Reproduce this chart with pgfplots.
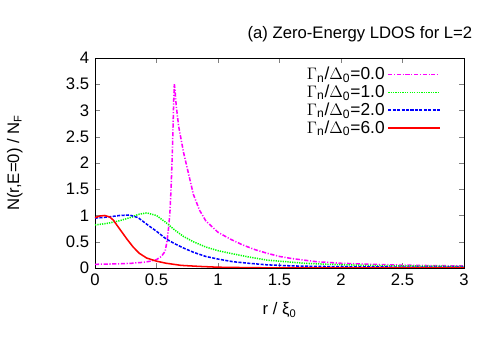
\documentclass[border=0pt]{standalone}
\usepackage{pgfplots}
\pgfplotsset{compat=1.18}
\usepackage{fontspec}
\setmainfont{Liberation Sans}
\definecolor{gpmag}{RGB}{255,0,255}
\definecolor{gpgreen}{RGB}{0,255,0}
\definecolor{gpblue}{RGB}{0,0,255}
\definecolor{gpred}{RGB}{255,0,0}

\begin{document}
\fontsize{12}{14}\selectfont
\begin{tikzpicture}
\useasboundingbox (-68.4pt,-59.04pt) rectangle (291.6pt,192.96pt);
\begin{axis}[
  at={(0,0)}, anchor=south west,
  scale only axis, width=265.7pt, height=151.2pt,
  xmin=0, xmax=3, ymin=0, ymax=4,
  xtick={0,0.5,...,3}, ytick={0,0.5,...,4},
  tick align=inside, major tick length=3.6pt,
  xtick pos=both, ytick pos=both,
  /pgf/number format/assume math mode=true,
  ticklabel style={font=\fontsize{12}{14}\selectfont},
  label style={font=\fontsize{12}{14}\selectfont},
  title={(a) Zero-Energy LDOS for L=2},
  title style={font=\fontsize{12}{14}\selectfont, at={(axis description cs:0.718,1.075)}, anchor=center},
  xlabel={r / ξ\textsubscript{0}},
  xlabel style={at={(axis description cs:0.5,-0.2)}, anchor=center},
  ylabel={N(r,E=0) / N\textsubscript{F}},
  ylabel style={at={(axis description cs:-0.217,0.5)}, anchor=center},
  legend plot pos=right, legend cell align=right,
  legend style={draw=none, fill=none, at={(axis description cs:0.948,0.985)}, anchor=north east,
    row sep=-2pt, font=\fontsize{12.5}{14}\selectfont},
  legend image code/.code={\draw[mark repeat=2,mark phase=2,#1] plot coordinates {(0cm,0cm) (0.65cm,0cm) (1.3cm,0cm)};},
  legend image post style={line width=1.1pt},
]
\addplot[gpmag, line width=1.1pt, dash pattern=on 3pt off 1.2pt on 0.8pt off 1.2pt] coordinates {
(0,0.07) (0.1,0.075) (0.2,0.08) (0.3,0.09) (0.4,0.11) (0.45,0.13) (0.5,0.16)
(0.54,0.22) (0.57,0.32) (0.585,0.5) (0.6,0.8) (0.61,1.1) (0.62,1.6) (0.63,2.3)
(0.64,3.2) (0.645,3.5) (0.65,3.4) (0.66,3.1) (0.68,2.7) (0.7,2.45) (0.72,2.2)
(0.75,1.9) (0.8,1.4) (0.85,1.1) (0.9,0.9) (1.0,0.68) (1.1,0.55) (1.2,0.44)
(1.3,0.35) (1.4,0.28) (1.5,0.22) (1.6,0.18) (1.7,0.15) (1.8,0.12) (2.0,0.09)
(2.25,0.07) (2.5,0.055) (2.75,0.045) (3.0,0.04)};
\addlegendentry{$\Gamma$\textsubscript{n}/$\Delta$\textsubscript{0}=0.0}
\addplot[gpgreen, line width=1.1pt, dash pattern=on 0.9pt off 0.8pt] coordinates {
(0,0.82) (0.1,0.85) (0.2,0.9) (0.3,0.97) (0.35,1.02) (0.42,1.05) (0.5,1.0)
(0.58,0.86) (0.65,0.72) (0.72,0.6) (0.8,0.5) (0.9,0.4) (1.0,0.33) (1.12,0.27)
(1.25,0.21) (1.4,0.15) (1.55,0.12) (1.7,0.09) (1.9,0.07) (2.2,0.05) (2.5,0.04)
(3.0,0.03)};
\addlegendentry{$\Gamma$\textsubscript{n}/$\Delta$\textsubscript{0}=1.0}
\addplot[gpblue, line width=1.1pt, dash pattern=on 2.2pt off 1pt] coordinates {
(0,0.95) (0.1,0.97) (0.2,1.0) (0.28,1.01) (0.35,0.96) (0.44,0.8) (0.5,0.7)
(0.58,0.55) (0.65,0.46) (0.72,0.38) (0.8,0.3) (0.9,0.22) (1.0,0.17) (1.12,0.12)
(1.25,0.09) (1.4,0.06) (1.6,0.04) (1.8,0.03) (2.2,0.02) (3.0,0.015)};
\addlegendentry{$\Gamma$\textsubscript{n}/$\Delta$\textsubscript{0}=2.0}
\addplot[gpred, line width=1.1pt] coordinates {
(0,0.96) (0.04,0.99) (0.08,1.0) (0.12,0.97) (0.15,0.91) (0.18,0.81) (0.22,0.68)
(0.26,0.55) (0.31,0.4) (0.36,0.28) (0.42,0.19) (0.5,0.13) (0.58,0.09) (0.7,0.05)
(0.85,0.03) (1.0,0.015) (1.3,0.005) (1.6,0.002) (3.0,0.0)};
\addlegendentry{$\Gamma$\textsubscript{n}/$\Delta$\textsubscript{0}=6.0}
\end{axis}
\end{tikzpicture}
\end{document}
